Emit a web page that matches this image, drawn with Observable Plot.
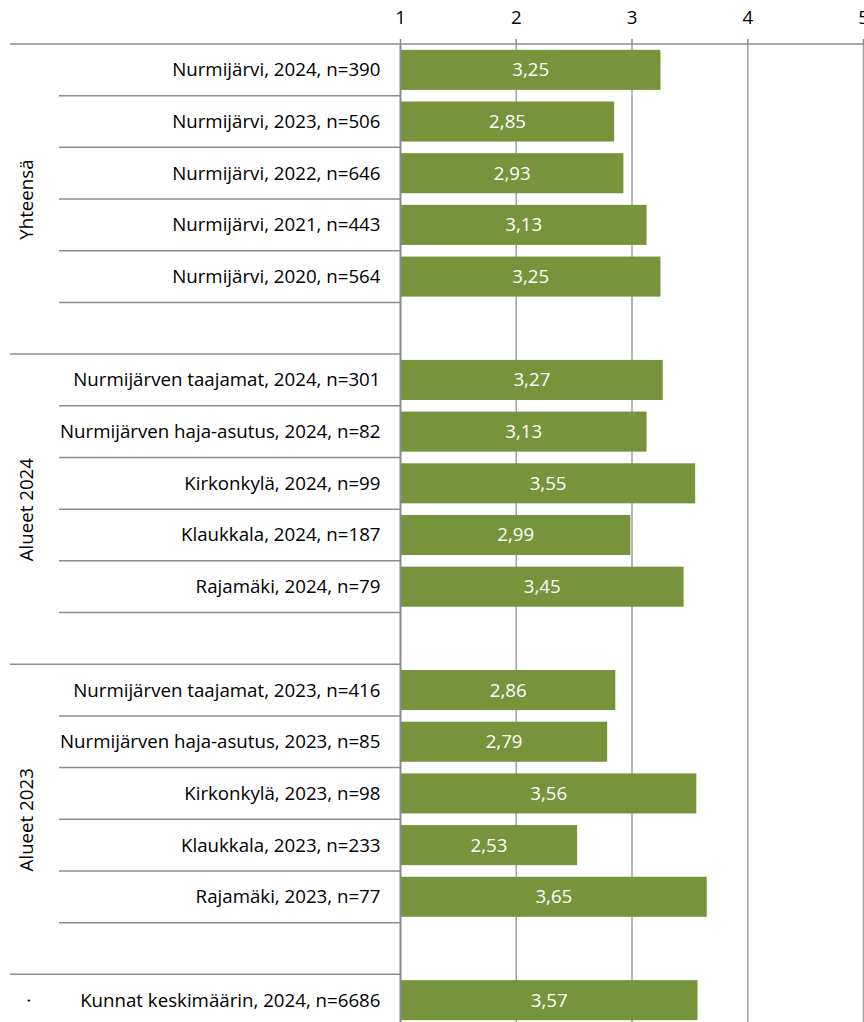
<!DOCTYPE html>
<html>
<head>
<meta charset="utf-8">
<script src="https://cdn.jsdelivr.net/npm/d3@7"></script>
<script src="https://cdn.jsdelivr.net/npm/@observablehq/plot@0.6"></script>
<style>
  html, body { margin: 0; padding: 0; background: #fff; overflow: hidden; }
  #chart svg { display: block; }
</style>
</head>
<body>
<div id="chart"></div>
<script>
// ---- data ----
const rowLabels = [
  "Nurmijärvi, 2024, n=390",
  "Nurmijärvi, 2023, n=506",
  "Nurmijärvi, 2022, n=646",
  "Nurmijärvi, 2021, n=443",
  "Nurmijärvi, 2020, n=564",
  "",
  "Nurmijärven taajamat, 2024, n=301",
  "Nurmijärven haja-asutus, 2024, n=82",
  "Kirkonkylä, 2024, n=99",
  "Klaukkala, 2024, n=187",
  "Rajamäki, 2024, n=79",
  "",
  "Nurmijärven taajamat, 2023, n=416",
  "Nurmijärven haja-asutus, 2023, n=85",
  "Kirkonkylä, 2023, n=98",
  "Klaukkala, 2023, n=233",
  "Rajamäki, 2023, n=77",
  "",
  "Kunnat keskimäärin, 2024, n=6686"
];
const values = [
  3.25, 2.85, 2.93, 3.13, 3.25, null,
  3.27, 3.13, 3.55, 2.99, 3.45, null,
  2.86, 2.79, 3.56, 2.53, 3.65, null,
  3.57
];
const groupNames = ["Yhteensä", "Alueet 2024", "Alueet 2023", "·"];
const groupStarts = [0, 6, 12, 18];
const groupSizes = [6, 6, 6, 1];
const xTicks = [1, 2, 3, 4, 5];
const xDomain = [1, 5];

// ---- build ----
const W = 864, H = 1026, MT = 44, ML = 400, MR = 1, MB = 0;
const rows = rowLabels.map((label, i) => ({i, label, value: values[i]}));
const bars = rows.filter(d => d.value != null);
const step = (H - MT - MB) / rows.length;
const groups = groupNames.map((name, g) => ({
  name,
  center: groupStarts[g] + (groupSizes[g] - 1) / 2
}));
const evenGroups = groups.filter(g => g.center % 1 !== 0);   // centre lies between two rows
const singleGroups = groups.filter(g => g.center % 1 === 0); // centre lies on a row
const fmt = v => d3.format(".2f")(v).replace(".", ",");
const FONT = "'Open Sans', sans-serif";
const FS = 18.7;

const chart = Plot.plot({
  width: W,
  height: H,
  marginTop: MT,
  marginLeft: ML,
  marginRight: MR,
  marginBottom: MB,
  style: {fontFamily: FONT, fontSize: FS + "px", color: "#000", background: "#fff"},
  x: {domain: xDomain},
  y: {domain: d3.range(rows.length), paddingInner: 0.225, paddingOuter: 0.1125, round: false, axis: null},
  marks: [
    Plot.ruleX(xTicks.slice(1), {stroke: "#a0a0a0", strokeWidth: 1.5}),
    Plot.barX(bars, {x1: xDomain[0], x2: "value", y: "i", fill: "#77933C"}),
    Plot.text(bars, {
      x: d => (xDomain[0] + d.value) / 2, y: "i",
      text: d => fmt(d.value), fill: "#fff", fontSize: FS
    }),
    Plot.text(rows, {
      y: "i", text: "label", frameAnchor: "left", textAnchor: "end",
      dx: -20, fill: "#000", fontSize: FS
    }),
    Plot.text(evenGroups, {
      y: d => Math.floor(d.center), dy: step / 2,
      text: "name", frameAnchor: "left", textAnchor: "middle", rotate: -90,
      dx: -373, fill: "#000", fontSize: FS
    }),
    Plot.text(singleGroups, {
      y: "center",
      text: "name", frameAnchor: "left", textAnchor: "middle", rotate: -90,
      dx: -371, fill: "#000", fontSize: FS
    }),
    Plot.ruleX([xDomain[0]], {stroke: "#8a8a8a", strokeWidth: 2}),
    Plot.axisX({
      anchor: "top", ticks: xTicks, tickFormat: d => String(d),
      tickSize: 6, tickPadding: 15, label: null, stroke: "#8a8a8a",
      strokeWidth: 1.5, fontSize: FS, fill: "#000"
    })
  ]
});

document.getElementById("chart").appendChild(chart);

// row separators, positioned from the library's y scale
const sy = chart.scale("y");
const svg = d3.select(chart);
const sep = svg.append("g").attr("stroke", "#8c8c8c").attr("stroke-width", 1.5);
rows.forEach((d, i) => {
  const top = sy.apply(i) - (sy.step - sy.bandwidth) / 2;
  const isGroupStart = groupStarts.includes(i);
  sep.append("line")
    .attr("x1", isGroupStart ? 10 : 59)
    .attr("x2", i === 0 ? W : ML)
    .attr("y1", top).attr("y2", top);
});
</script>
</body>
</html>
